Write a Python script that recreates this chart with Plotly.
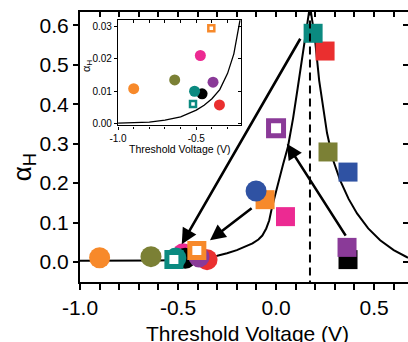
import plotly.graph_objects as go

# ---------------- data ----------------
# low-state filled circles (shown in main plot and inset)
circ_names = ["red", "pink", "black", "purple", "olive", "orange", "teal"]
circ_x = [-0.352, -0.474, -0.463, -0.393, -0.638, -0.900, -0.511]
circ_y = [0.0058, 0.0210, 0.0092, 0.0128, 0.0135, 0.0108, 0.0100]

# open squares at low state
open_lo_names = ["teal", "orange"]
open_lo_x = [-0.521, -0.404]
open_lo_y = [0.0061, 0.0294]

# filled squares (high state)
sq_names = ["black", "purple", "red", "teal", "olive", "blue", "orange", "pink"]
sq_x = [0.367, 0.362, 0.250, 0.189, 0.265, 0.367, -0.056, 0.048]
sq_y = [0.006, 0.037, 0.535, 0.580, 0.279, 0.228, 0.158, 0.115]

# blue filled circle and purple open square (intermediate)
blue_circ_x = [-0.102]
blue_circ_y = [0.180]
purple_open_x = [0.000]
purple_open_y = [0.339]

# fitted curve in main plot
curve_x = [-1.0, -0.8, -0.6, -0.5, -0.45, -0.4, -0.35, -0.30, -0.25, -0.20, -0.16,
           -0.12, -0.09, -0.07, -0.05, -0.035, -0.02, -0.005, 0.01, 0.036, 0.061,
           0.087, 0.11, 0.13, 0.15, 0.16, 0.173,
           0.185, 0.199, 0.22, 0.25, 0.26, 0.29, 0.327, 0.37, 0.413, 0.47, 0.531,
           0.60, 0.668, 0.70]
curve_y = [0.003, 0.003, 0.004, 0.005, 0.007, 0.009, 0.012, 0.016, 0.022, 0.030, 0.038,
           0.047, 0.057, 0.067, 0.085, 0.105, 0.140, 0.170, 0.200, 0.248, 0.293,
           0.365, 0.440, 0.510, 0.575, 0.610, 0.650,
           0.610, 0.563, 0.460, 0.365, 0.327, 0.260, 0.207, 0.160, 0.123, 0.085, 0.055,
           0.030, 0.012, 0.008]

# fitted curve in inset
inset_curve_x = [-1.0, -0.9, -0.8, -0.7, -0.6, -0.5, -0.45, -0.4, -0.35, -0.3, -0.26, -0.225, -0.21]
inset_curve_y = [0.0002, 0.0003, 0.0005, 0.0011, 0.0021, 0.0042, 0.0057, 0.0077, 0.0105,
                 0.0155, 0.0215, 0.0307, 0.0350]

# peak position (dashed line)
v_peak = 0.173

# arrows: tail -> head
arrow_tail_x = [0.128, -0.117, 0.360]
arrow_tail_y = [0.570, 0.139, 0.063]
arrow_head_x = [-0.481, -0.337, 0.055]
arrow_head_y = [0.045, 0.055, 0.300]

# tick labels
x_tickvals = [-1.0, -0.5, 0.0, 0.5]
x_ticktext = ["-1.0", "-0.5", "0.0", "0.5"]
y_tickvals = [0.0, 0.1, 0.2, 0.3, 0.4, 0.5, 0.6]
y_ticktext = ["0.0", "0.1", "0.2", "0.3", "0.4", "0.5", "0.6"]
ix_tickvals = [-1.0, -0.5]
ix_ticktext = ["-1.0", "-0.5"]
iy_tickvals = [0.0, 0.01, 0.02, 0.03]
iy_ticktext = ["0.00", "0.01", "0.02", "0.03"]
minor_x = [-1.0, -0.9, -0.8, -0.7, -0.6, -0.5, -0.4, -0.3, -0.2, -0.1, 0.0, 0.1, 0.2, 0.3, 0.4, 0.5, 0.6]

# ---------------- style ----------------
COL = {
    "orange": "#F7892A", "olive": "#7B8035", "teal": "#0B8A80", "pink": "#EC2A92",
    "black": "#000000", "purple": "#8A3A98", "red": "#EA2F2F", "blue": "#2F52A3",
}
FONT = "Liberation Sans, Arial, sans-serif"

fig = go.Figure()

# main curve
fig.add_trace(go.Scatter(x=curve_x, y=curve_y, mode="lines",
                         line=dict(color="black", width=2), hoverinfo="skip"))

# main low-state circles
for n, x, y in zip(circ_names, circ_x, circ_y):
    fig.add_trace(go.Scatter(x=[x], y=[y], mode="markers",
                             marker=dict(symbol="circle", size=21, color=COL[n], line=dict(width=0))))
# main low-state open squares
for n, x, y in zip(open_lo_names, open_lo_x, open_lo_y):
    fig.add_trace(go.Scatter(x=[x], y=[y], mode="markers",
                             marker=dict(symbol="square", size=14, color="white",
                                         line=dict(color=COL[n], width=5))))
# filled squares
for n, x, y in zip(sq_names, sq_x, sq_y):
    fig.add_trace(go.Scatter(x=[x], y=[y], mode="markers",
                             marker=dict(symbol="square", size=19, color=COL[n], line=dict(width=0))))
# blue circle
fig.add_trace(go.Scatter(x=blue_circ_x, y=blue_circ_y, mode="markers",
                         marker=dict(symbol="circle", size=21, color=COL["blue"], line=dict(width=0))))
# purple open square
fig.add_trace(go.Scatter(x=purple_open_x, y=purple_open_y, mode="markers",
                         marker=dict(symbol="square", size=15, color="white",
                                     line=dict(color=COL["purple"], width=5))))
# dashed vertical line
fig.add_trace(go.Scatter(x=[v_peak, v_peak], y=[-0.1, 0.7], mode="lines",
                         line=dict(color="black", width=2, dash="8px,5px"), hoverinfo="skip"))

# helper traces for mirror axes
fig.add_trace(go.Scatter(x=[None], y=[None], xaxis="x2", yaxis="y2", mode="markers"))
fig.add_trace(go.Scatter(x=[None], y=[None], xaxis="x4", yaxis="y4", mode="markers"))

# inset
fig.add_trace(go.Scatter(x=inset_curve_x, y=inset_curve_y, mode="lines", xaxis="x3", yaxis="y3",
                         line=dict(color="black", width=1.3), hoverinfo="skip"))
for n, x, y in zip(circ_names, circ_x, circ_y):
    fig.add_trace(go.Scatter(x=[x], y=[y], mode="markers", xaxis="x3", yaxis="y3",
                             marker=dict(symbol="circle", size=11, color=COL[n], line=dict(width=0))))
for n, x, y in zip(open_lo_names, open_lo_x, open_lo_y):
    fig.add_trace(go.Scatter(x=[x], y=[y], mode="markers", xaxis="x3", yaxis="y3",
                             marker=dict(symbol="square", size=6, color="white",
                                         line=dict(color=COL[n], width=2.5))))

# arrows
for tx, ty, hx, hy in zip(arrow_tail_x, arrow_tail_y, arrow_head_x, arrow_head_y):
    fig.add_annotation(x=hx, y=hy, ax=tx, ay=ty, xref="x", yref="y", axref="x", ayref="y",
                       text="", showarrow=True, arrowhead=2, arrowsize=1.2, arrowwidth=2.6,
                       arrowcolor="black", standoff=0, startstandoff=0)

XR = [-1.0, 0.673]
YR = [-0.0508, 0.634]
tickfont = dict(family=FONT, size=21, color="black")
ifont = dict(family=FONT, size=10, color="black")

fig.update_layout(
    width=408, height=342,
    margin=dict(l=80, r=0, t=12, b=60),
    plot_bgcolor="white", paper_bgcolor="white",
    showlegend=False,
    xaxis=dict(range=XR, showgrid=False, zeroline=False, showline=True, linewidth=2,
               linecolor="black", ticks="outside", ticklen=6, tickwidth=1.5, tickcolor="black",
               tickvals=x_tickvals, ticktext=x_ticktext, tickfont=tickfont,
               minor=dict(tickvals=minor_x, ticks="outside", ticklen=6, tickwidth=1.5,
                          tickcolor="black"),
               anchor="y"),
    xaxis2=dict(range=XR, overlaying="x", side="top", anchor="y", showgrid=False,
                zeroline=False, showline=True, linewidth=2, linecolor="black",
                ticks="inside", ticklen=5, tickwidth=1.5, tickcolor="black",
                tickvals=minor_x, showticklabels=False),
    yaxis=dict(range=YR, showgrid=False, zeroline=False, showline=True, linewidth=2,
               linecolor="black", ticks="outside", ticklen=5, tickwidth=1.5, tickcolor="black",
               tickvals=y_tickvals, ticktext=y_ticktext, tickfont=tickfont, anchor="x"),
    yaxis2=dict(range=YR, overlaying="y", side="right", anchor="x", showgrid=False,
                zeroline=False, showline=False, ticks="inside", ticklen=5, tickwidth=1.5,
                tickcolor="black", tickvals=y_tickvals, showticklabels=False),
    xaxis3=dict(domain=[0.116, 0.491], anchor="y3", range=[-1.0, -0.214], showgrid=False,
                zeroline=False, showline=True, linewidth=1.2, linecolor="black",
                ticks="outside", ticklen=3, tickwidth=1, tickcolor="black",
                tickvals=ix_tickvals, ticktext=ix_ticktext, tickfont=ifont,
                minor=dict(tickvals=minor_x, ticks="outside", ticklen=2, tickwidth=1,
                           tickcolor="black")),
    yaxis3=dict(domain=[0.580, 0.969], anchor="x3", range=[-0.0005, 0.0318], showgrid=False,
                zeroline=False, showline=True, linewidth=1.2, linecolor="black",
                ticks="outside", ticklen=3, tickwidth=1, tickcolor="black",
                tickvals=iy_tickvals, ticktext=iy_ticktext, tickfont=ifont),
    xaxis4=dict(overlaying="x3", side="top", anchor="y3", range=[-1.0, -0.214], showgrid=False,
                zeroline=False, showline=True, linewidth=1.2, linecolor="black",
                ticks="inside", ticklen=3, tickwidth=1, tickcolor="black",
                tickvals=minor_x, showticklabels=False),
    yaxis4=dict(overlaying="y3", side="right", anchor="x3", range=[-0.0005, 0.0318],
                showgrid=False, zeroline=False, showline=True, linewidth=1.2, linecolor="black",
                ticks="inside", ticklen=3, tickwidth=1, tickcolor="black",
                tickvals=iy_tickvals, showticklabels=False),
)

# axis titles
fig.add_annotation(text="Threshold Voltage (V)", xref="paper", yref="paper", x=0.51, y=-0.19,
                   showarrow=False, xanchor="center", yanchor="middle",
                   font=dict(family=FONT, size=21, color="black"))
fig.add_annotation(text="α<sub>H</sub>", xref="paper", yref="paper", x=-0.174, y=0.425,
                   showarrow=False, textangle=-90, xanchor="center", yanchor="middle",
                   font=dict(family=FONT, size=26, color="black"))
fig.add_annotation(text="Threshold Voltage (V)", xref="paper", yref="paper", x=0.305, y=0.493,
                   showarrow=False, xanchor="center", yanchor="middle",
                   font=dict(family=FONT, size=10.5, color="black"))
fig.add_annotation(text="α<sub>H</sub>", xref="paper", yref="paper", x=0.021, y=0.80,
                   showarrow=False, textangle=-90, xanchor="center", yanchor="middle",
                   font=dict(family=FONT, size=11, color="black"))

fig.write_html("out.html", config={"displayModeBar": False},
               post_script="document.body.style.margin='0px';")
